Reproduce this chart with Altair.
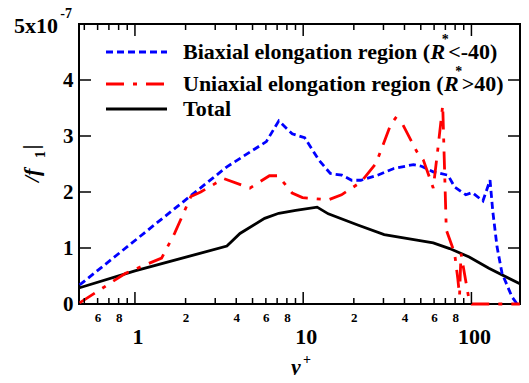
import altair as alt
import pandas as pd

# ---------------- data ----------------
biax_x = [0.469, 2.0, 3.52, 6.04, 7.16, 8.6, 10.2, 12.4, 14.5, 17.0, 19.4, 22.0, 27.7, 34.6,
          45.3, 50.5, 59.3, 72.5, 79.5, 92.7, 101, 117, 129, 134, 142, 152, 174, 187]
biax_y = [0.34, 1.86, 2.45, 2.90, 3.27, 3.04, 2.97, 2.57, 2.33, 2.30, 2.21, 2.21, 2.30, 2.42,
          2.49, 2.46, 2.36, 2.30, 2.09, 1.95, 1.99, 1.84, 2.21, 1.65, 1.02, 0.55, 0.13, 0.0]

uni_x = [0.469, 0.88, 1.44, 1.72, 2.15, 2.46, 3.37, 4.82, 6.3, 7.1, 8.6, 9.9, 14.1, 16.9,
         22.1, 27.1, 33.1, 35.4, 38.7, 47.4, 51.8, 59.3, 63.4, 67.5, 70.9, 79.4, 83.0, 85.0,
         86.7, 97.5, 100, 194]
uni_y = [0.02, 0.55, 0.82, 1.26, 1.92, 2.00, 2.24, 2.07, 2.29, 2.29, 1.98, 1.90, 1.86, 1.95,
         2.18, 2.51, 3.20, 3.32, 3.23, 2.72, 2.57, 2.07, 2.81, 3.55, 1.32, 0.91, 0.45, 0.15,
         0.90, 0.02, 0.0, 0.0]

tot_x = [0.469, 1.0, 2.06, 3.52, 4.21, 5.9, 7.16, 9.03, 12.1, 14.1, 21.1, 30.3, 47.4, 59.3,
         74.2, 97, 127, 194]
tot_y = [0.29, 0.59, 0.845, 1.036, 1.26, 1.53, 1.62, 1.67, 1.73, 1.61, 1.41, 1.24, 1.14, 1.09,
         0.99, 0.84, 0.64, 0.36]

x_minor_ticks = [0.5, 0.6, 0.7, 0.8, 0.9, 2, 3, 4, 5, 6, 7, 8, 9, 20, 30, 40, 50, 60, 70, 80, 90]
x_major_ticks = [1, 10, 100]
x_small_labels = [0.6, 0.8, 2, 4, 6, 8, 20, 40, 60, 80]
x_big_labels = ["1", "10", "100"]
y_tick_values = [1, 2, 3, 4]
y_label_values = [0, 1, 2, 3, 4]

legend_labels = ["Biaxial elongation region (", "Uniaxial elongation region (", "Total"]
legend_tails = ["<-40)", ">40)"]

# ---------------- layout ----------------
W, H = 441, 280
FONT = "Liberation Serif"
xs = alt.Scale(type="log", domain=[0.465, 194.4], nice=False)
ys = alt.Scale(domain=[0, 5], nice=False, zero=False)

xaxis = alt.Axis(values=x_small_labels, title="", grid=False, domain=False, ticks=False,
                 tickSize=0, labelFont=FONT, labelFontSize=13, labelFontWeight="bold",
                 labelColor="black", labelBaseline="top", labelPadding=7,
                 labelOverlap=False, labelFlush=False,
                 labelExpr="'' + (datum.value < 1 ? round(datum.value*10) : (datum.value < 10 ? round(datum.value) : round(datum.value/10)))")
yaxis = alt.Axis(values=y_label_values, title="", grid=False, domain=False, ticks=False,
                 tickSize=0, labelFont=FONT, labelFontSize=21, labelFontWeight="bold",
                 labelColor="black", labelPadding=6, format="d")

X = lambda: alt.X("x:Q", scale=xs, axis=xaxis)
Y = lambda: alt.Y("y:Q", scale=ys, axis=yaxis)


def series(xv, yv, color, dash=None):
    df = pd.DataFrame({"x": xv, "y": yv})
    kw = dict(color=color, strokeWidth=2.8)
    if dash:
        kw["strokeDash"] = dash
    return alt.Chart(df).mark_line(**kw).encode(x=X(), y=Y())


BLUE_DASH = [7, 4]
RED_DASH = [18, 9, 4, 9]

lines = [
    series(tot_x, tot_y, "black"),
    series(biax_x, biax_y, "#0000ff", BLUE_DASH),
    series(uni_x, uni_y, "#ff0000", RED_DASH),
]

# inward ticks on all four sides
def xticks(vals, y0, y1):
    return alt.Chart(pd.DataFrame({"x": vals})).mark_rule(color="black", strokeWidth=1.5).encode(
        x=X(), y=alt.value(y0), y2=alt.value(y1))


def yticks(vals, x0, x1):
    return alt.Chart(pd.DataFrame({"y": vals})).mark_rule(color="black", strokeWidth=1.5).encode(
        y=Y(), x=alt.value(x0), x2=alt.value(x1))


ticks = [
    xticks(x_minor_ticks, H, H - 6), xticks(x_major_ticks, H, H - 12),
    xticks(x_minor_ticks, 0, 6), xticks(x_major_ticks, 0, 12),
    yticks(y_tick_values, 0, 12), yticks(y_tick_values, W, W - 12),
]

big_labels = alt.Chart(pd.DataFrame({"x": x_major_ticks, "t": x_big_labels})).mark_text(
    font=FONT, fontSize=22, fontWeight="bold", baseline="alphabetic", align="center", dx=3,
    color="black").encode(x=X(), y=alt.value(320), text="t:N")


def ptext(s, px, py, size=22, style="normal", weight="bold", align="left",
          baseline="alphabetic", angle=0):
    kw = dict(text=s, font=FONT, fontSize=size, fontStyle=style, fontWeight=weight,
              align=align, baseline=baseline, color="black")
    if angle:
        kw["angle"] = angle
    return alt.Chart(pd.DataFrame({"d": [0]})).mark_text(**kw).encode(
        x=alt.value(px), y=alt.value(py))


# Times-compatible bold advance widths (per 1000 em)
TB = {' ': 250, '(': 333, 'B': 667, 'U': 722, 'a': 500, 'e': 444, 'g': 500, 'i': 278,
      'l': 278, 'n': 556, 'o': 500, 'r': 444, 't': 333, 'x': 500}


def tw(s, size=22):
    return sum(TB[c] for c in s) / 1000 * size


# legend
LX0, LX1, TX = 27, 88, 104
rows_line_y = [28, 60, 85]
rows_base_y = [35.3, 67, 92]
legend = [
    alt.Chart(pd.DataFrame({"d": [0]})).mark_rule(color="#0000ff", strokeWidth=2.8, strokeDash=BLUE_DASH).encode(
        x=alt.value(LX0), x2=alt.value(LX1), y=alt.value(rows_line_y[0])),
    alt.Chart(pd.DataFrame({"d": [0]})).mark_rule(color="#ff0000", strokeWidth=2.8, strokeDash=RED_DASH).encode(
        x=alt.value(LX0), x2=alt.value(LX1), y=alt.value(rows_line_y[1])),
    alt.Chart(pd.DataFrame({"d": [0]})).mark_rule(color="black", strokeWidth=2.8).encode(
        x=alt.value(LX0), x2=alt.value(LX1), y=alt.value(rows_line_y[2])),
]
for i, lab in enumerate(legend_labels):
    legend.append(ptext(lab, TX, rows_base_y[i]))
for i, tail in enumerate(legend_tails):
    rx = TX + tw(legend_labels[i])
    rend = rx + 0.667 * 22
    legend.append(ptext("R", rx, rows_base_y[i], style="italic"))
    legend.append(ptext("*", rend, rows_base_y[i] - 15.5, size=14, align="center"))
    legend.append(ptext(tail, rend + 3, rows_base_y[i]))

# axis titles and the exponent
extras = [
    ptext("5x10", -21, 9, align="right"),
    ptext("-7", -7, -6, size=14, align="right"),
    ptext("y", 212, 350, style="italic"),
    ptext("+", 228, 336, size=14, align="center", baseline="middle"),
    ptext("/f", -40, 158, style="italic", angle=270),
    ptext("1", -34, 134, size=14, angle=270),
    ptext("|", -41, 123, align="center", angle=270),
]

chart = alt.layer(*lines, *ticks, big_labels, *legend, *extras).properties(
    width=W, height=H,
    autosize=alt.AutoSizeParams(type="none"),
    padding={"left": 71, "top": 16, "right": 1, "bottom": 71},
).configure_view(stroke="black", strokeWidth=2)

chart.save("out.html", embed_options={"renderer": "svg", "actions": False})
